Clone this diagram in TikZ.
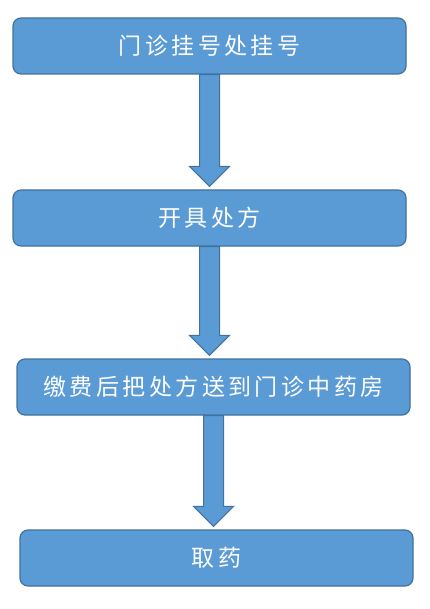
\documentclass[tikz,border=0pt]{standalone}
\usepackage{fontspec}
\newfontfamily\cjk[LetterSpace=15]{Noto Sans CJK SC}
\usepackage{xcolor}
\usetikzlibrary{positioning,calc}
\definecolor{boxblue}{HTML}{5B9BD5}
\definecolor{edgeblue}{HTML}{41719C}

\begin{document}
\begin{tikzpicture}[x=1pt,y=-1pt,
  stepbox/.style={draw=edgeblue, line width=1.2pt, fill=boxblue, rounded corners=8pt,
    minimum width=393pt, minimum height=56pt, text=white, font=\cjk\fontsize{23}{25}\selectfont},
  arr/.style={draw=edgeblue, line width=1pt, fill=boxblue, line join=miter}]
\useasboundingbox (0,0) rectangle (429,609);
% boxes
\node[stepbox] (reg) at (209.5,46) {门诊挂号处挂号};
\node[stepbox] (presc) at (209.5,218) {开具处方};
\node[stepbox] (pay) at (213.5,387) {缴费后把处方送到门诊中药房};
\node[stepbox] (fetch) at (216.5,558) {取药};

% block arrows
\foreach \a/\b in {reg/presc, presc/pay, pay/fetch} {
  \draw[arr] ($(\a.south)+(-10,0)$) -- ($(\a.south |- \b.north)+(-10,-23)$)
    -- ($(\a.south |- \b.north)+(-20,-23)$) -- ($(\a.south |- \b.north)+(0,-3)$)
    -- ($(\a.south |- \b.north)+(20,-23)$) -- ($(\a.south |- \b.north)+(10,-23)$)
    -- ($(\a.south)+(10,0)$) -- cycle;
}
\end{tikzpicture}
\end{document}
